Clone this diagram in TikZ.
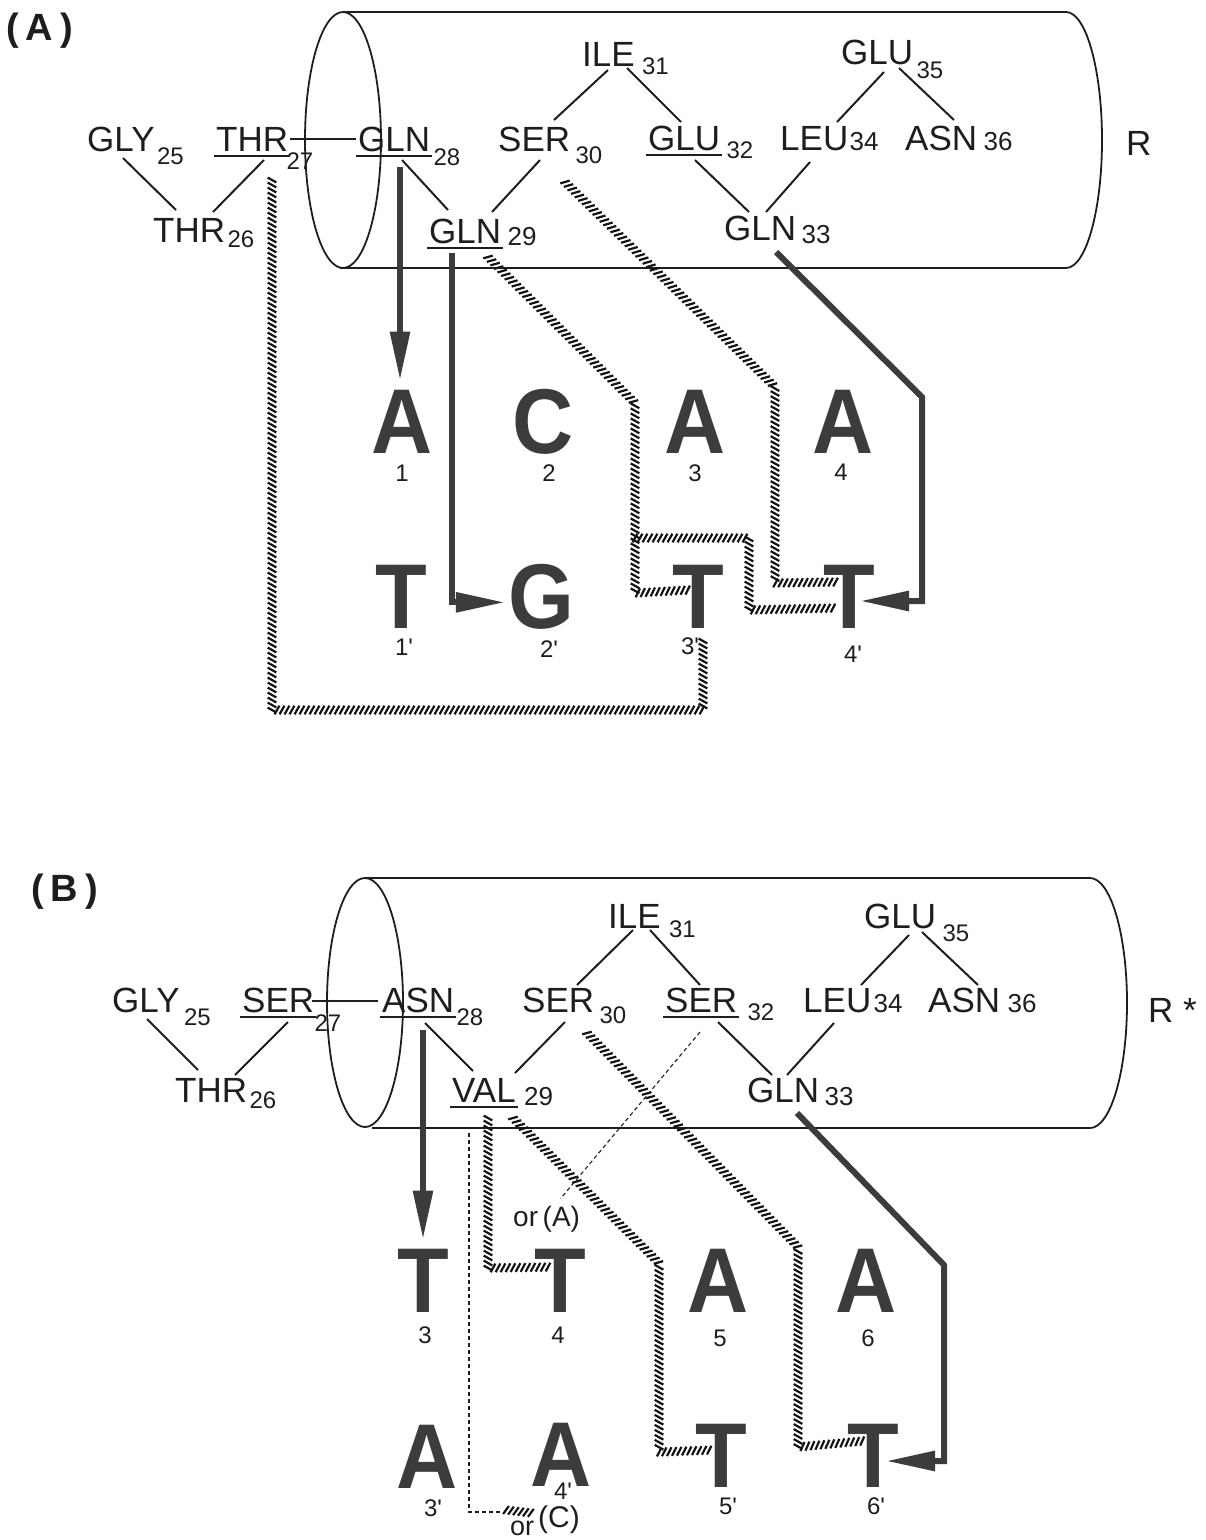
\documentclass[tikz,border=0pt]{standalone}
\usepackage{fontspec}
\setmainfont{Liberation Sans}
\newfontfamily\nucfam[FakeStretch=0.92]{Liberation Sans}
\usetikzlibrary{calc,arrows.meta,decorations.markings}
\definecolor{ink}{HTML}{1E1E1E}
\definecolor{dk}{HTML}{3C3C3C}
\definecolor{hk}{HTML}{141414}
\newcommand\resfnt{\fontsize{35}{38}\selectfont}
\newcommand\subfnt{\fontsize{24}{26}\selectfont}
\newcommand\inlfnt{\fontsize{26}{28}\selectfont}
\newcommand\nucfnt{\nucfam\bfseries\fontsize{92}{92}\selectfont}
\newcommand\numfnt{\fontsize{24}{26}\selectfont}
\newcommand\panfnt{\bfseries\fontsize{38}{40}\selectfont}
\newcommand\pr{\textquotesingle}
\begin{document}
\begin{tikzpicture}[x=1pt,y=-1pt,
  res/.style={font=\resfnt, inner sep=0pt, anchor=base west, text=ink},
  subl/.style={font=\subfnt, inner sep=0pt, anchor=base west, text=ink},
  inl/.style={font=\inlfnt, inner sep=0pt, anchor=base west, text=ink},
  nuc/.style={font=\nucfnt, inner sep=0pt, anchor=base, text=dk},
  num/.style={font=\numfnt, inner sep=0pt, anchor=base, text=ink},
  orl/.style={font=\fontsize{28}{30}\selectfont, inner sep=0pt, anchor=base west, text=ink},
  pan/.style={font=\panfnt, inner sep=0pt, anchor=base west, text=ink},
  tree/.style={draw=ink, line width=2pt},
  cyl/.style={draw=ink, line width=1.8pt},
  ul/.style={draw=ink, line width=1.8pt},
  harrow/.style={draw=dk, line width=6pt, line join=miter, -{Triangle[length=49pt,width=19pt]}},
  hatch/.style={postaction={decorate}, decoration={markings, mark=between positions 0 and 1 step 5pt with {\draw[hk, line width=2.2pt] (-2.4pt,-4.3pt) -- (2.4pt,4.3pt);}}},
  dsh/.style={draw=ink, line width=1.1pt, dash pattern=on 4pt off 3pt}
]
\useasboundingbox (0,0) rectangle (1206,1540);

% ================= PANEL A =================
\node[pan] (panA) at (6,40) {(\kern7pt A\kern7pt)};
\draw[cyl] (343,140) ellipse [x radius=38, y radius=128];
\draw[cyl] (343,12) -- (1066,12) arc[start angle=-90,end angle=90,x radius=36,y radius=128] -- (340,268);
\node[res] (RA) at (1126,155) {R};

\node[res] (glyA) at (87,151) {GLY};   \node[subl] at ($(glyA.base east)+(2,13)$) {25};
\node[res] (thrA) at (216,151) {THR};  \node[subl] at ($(thrA.base east)+(-2,18)$) {27};
\node[res] (glnA) at (358,151) {GLN};  \node[subl] at ($(glnA.base east)+(3,14)$) {28};
\node[res] (sernA) at (498,151) {SER}; \node[subl] at ($(sernA.base east)+(5,12)$) {30};
\node[res] (ileA) at (582,66) {ILE};   \node[subl] at ($(ileA.base east)+(7,8)$) {31};
\node[res] (gluA) at (648,150) {GLU};  \node[subl] at ($(gluA.base east)+(6,8)$) {32};
\node[res] (glueA) at (841,64) {GLU};  \node[subl] at ($(glueA.base east)+(3,14)$) {35};
\node[res] (leuA) at (780,150) {LEU};  \node[inl] at ($(leuA.base east)+(1,0)$) {34};
\node[res] (asnA) at (905,150) {ASN};  \node[inl] at ($(asnA.base east)+(6,0)$) {36};
\node[res] (thrbA) at (153,242) {THR}; \node[subl] at ($(thrbA.base east)+(2,5)$) {26};
\node[res] (glnbA) at (429,243) {GLN}; \node[inl] at ($(glnbA.base east)+(6,2)$) {29};
\node[res] (glncA) at (724,240) {GLN}; \node[inl] at ($(glncA.base east)+(5,3)$) {33};

\foreach \n in {thrA,glnA,gluA,glnbA}
  \draw[ul] ($(\n.base west)+(-2,5)$) -- ($(\n.base east)+(2,5)$);

\draw[tree] ($(glyA.base west)+(36,7)$) -- ($(thrbA.base west)+(23,-32)$);
\draw[tree] ($(thrA.base west)+(48,9)$) -- ($(thrbA.base west)+(60,-30)$);
\draw[tree] ($(thrA.base west)+(74,-12)$) -- ($(glnA.base west)+(-2,-12)$);
\draw[tree] ($(glnA.base west)+(44,9)$) -- ($(glnbA.base west)+(19,-33)$);
\draw[tree] ($(sernA.base west)+(42,9)$) -- ($(glnbA.base west)+(63,-31)$);
\draw[tree] ($(ileA.base west)+(26,4)$) -- ($(sernA.base west)+(56,-31)$);
\draw[tree] ($(ileA.base west)+(45,2)$) -- ($(gluA.base west)+(33,-28)$);
\draw[tree] ($(gluA.base west)+(47,10)$) -- ($(glncA.base west)+(25,-28)$);
\draw[tree] ($(leuA.base west)+(30,12)$) -- ($(glncA.base west)+(42,-28)$);
\draw[tree] ($(glueA.base west)+(43,8)$) -- ($(leuA.base west)+(57,-28)$);
\draw[tree] ($(glueA.base west)+(58,4)$) -- ($(asnA.base west)+(49,-30)$);

\node[nuc] (A1) at (402,453) {A};
\node[nuc] (C2) at (543,453) {C};
\node[nuc] (A3) at (695,453) {A};
\node[nuc] (A4) at (843,453) {A};
\node[nuc] (T1p) at (401,628) {T};
\node[nuc] (G2p) at (541,628) {G};
\node[nuc] (T3p) at (698,628) {T};
\node[nuc] (T4p) at (849,628) {T};
\node[num] (n1) at (402,481) {1};
\node[num] (n2) at (549,481) {2};
\node[num] (n3) at (695,481) {3};
\node[num] (n4) at (841,480) {4};
\node[num] (n1p) at (404,655) {1\pr};
\node[num] (n2p) at (549,657) {2\pr};
\node[num] (n3p) at (690,654) {3\pr};
\node[num] (n4p) at (853,662) {4\pr};

\draw[harrow, shorten >=9pt] ($(glnA.base west)+(42,16)$) coordinate (a1s) -- (a1s |- A1.north);
\draw[harrow] ($(glnbA.base west)+(23,10)$) |- ($(G2p.west)+(-3,6)$);
\draw[harrow] ($(glncA.base west)+(52,12)$) -- (922,397) |- ($(T4p.base)+(11,-27)$);

\path[hatch] ($(thrA.base west)+(56,29)$) -- ++(0,530) -| ($(n3p.base)+(13,-17)$);
\path[hatch] ($(glnbA.base west)+(59,14)$) -- (635,403) -- (635,593) -- ($(T3p.base)+(-10,-38)$);
\coordinate (hbx) at (635,538);
\path[hatch] (hbx) -- (749,538) -- (749,610) -- ($(T4p.base)+(-15,-20)$);
\path[hatch] ($(sernA.base west)+(67,31)$) -- (775,387) -- (775,583) -- ($(T4p.base)+(-11,-46)$);

% ================= PANEL B =================
\node[pan] (panB) at (31,901) {(\kern7pt B\kern7pt)};
\draw[cyl] (365,1002.5) ellipse [x radius=38, y radius=124.5];
\draw[cyl] (366,878) -- (1090,878) arc[start angle=-90,end angle=90,x radius=37,y radius=125] -- (372,1128);
\node[res] (RB) at (1148,1022) {R *};

\node[res] (glyB) at (112,1012) {GLY};  \node[subl] at ($(glyB.base east)+(4,13)$) {25};
\node[res] (serB) at (242,1012) {SER};  \node[subl] at ($(serB.base east)+(0,19)$) {27};
\node[res] (asnB) at (382,1012) {ASN};  \node[subl] at ($(asnB.base east)+(2,13)$) {28};
\node[res] (sernB) at (522,1012) {SER}; \node[subl] at ($(sernB.base east)+(5,11)$) {30};
\node[res] (ileB) at (608,928) {ILE};   \node[subl] at ($(ileB.base east)+(8,9)$) {31};
\node[res] (sertB) at (665,1012) {SER}; \node[subl] at ($(sertB.base east)+(10,8)$) {32};
\node[res] (leuB) at (803,1012) {LEU};  \node[inl] at ($(leuB.base east)+(2,0)$) {34};
\node[res] (asncB) at (928,1012) {ASN}; \node[inl] at ($(asncB.base east)+(7,0)$) {36};
\node[res] (glueB) at (864,928) {GLU};  \node[subl] at ($(glueB.base east)+(6,13)$) {35};
\node[res] (thrbB) at (175,1102) {THR}; \node[subl] at ($(thrbB.base east)+(2,6)$) {26};
\node[res] (valB) at (452,1102) {VAL};  \node[inl] at ($(valB.base east)+(8,3)$) {29};
\node[res] (glncB) at (747,1102) {GLN}; \node[inl] at ($(glncB.base east)+(5,3)$) {33};

\foreach \n in {serB,asnB,sertB,valB}
  \draw[ul] ($(\n.base west)+(-2,5)$) -- ($(\n.base east)+(2,5)$);

\draw[tree] ($(glyB.base west)+(35,7)$) -- ($(thrbB.base west)+(23,-32)$);
\draw[tree] ($(serB.base west)+(46,10)$) -- ($(thrbB.base west)+(60,-27)$);
\draw[tree] ($(serB.base west)+(70,-11)$) -- ($(asnB.base west)+(-4,-11)$);
\draw[tree] ($(asnB.base west)+(43,11)$) -- ($(valB.base west)+(21,-31)$);
\draw[tree] ($(sernB.base west)+(43,10)$) -- ($(valB.base west)+(63,-29)$);
\draw[tree] ($(ileB.base west)+(25,2)$) -- ($(sernB.base west)+(55,-27)$);
\draw[tree] ($(ileB.base west)+(42,2)$) -- ($(sertB.base west)+(35,-27)$);
\draw[tree] ($(sertB.base west)+(53,10)$) -- ($(glncB.base west)+(25,-27)$);
\draw[tree] ($(leuB.base west)+(31,11)$) -- ($(glncB.base west)+(40,-27)$);
\draw[tree] ($(glueB.base west)+(45,7)$) -- ($(leuB.base west)+(58,-27)$);
\draw[tree] ($(glueB.base west)+(58,4)$) -- ($(asncB.base west)+(50,-27)$);

\node[nuc] (T3B) at (423,1312) {T};
\node[nuc] (T4B) at (560,1312) {T};
\node[nuc] (A5B) at (718,1312) {A};
\node[nuc] (A6B) at (866,1312) {A};
\node[nuc] (A3pB) at (427,1488) {A};
\node[nuc] (A4pB) at (561,1486) {A};
\node[nuc] (T5pB) at (721,1487) {T};
\node[nuc] (T6pB) at (873,1487) {T};
\node[num] (m3) at (425,1343) {3};
\node[num] (m4) at (558,1343) {4};
\node[num] (m5) at (720,1346) {5};
\node[num] (m6) at (868,1346) {6};
\node[num] (m3p) at (433,1516) {3\pr};
\node[num] (m4p) at (563,1499) {4\pr};
\node[num] (m5p) at (728,1514) {5\pr};
\node[num] (m6p) at (876,1514) {6\pr};

\node[orl] (orA) at (513,1226) {or\,(A)};
\node[orl, font=\fontsize{27}{29}\selectfont] (orC) at (510,1535) {or};
\node[orl, font=\fontsize{30}{32}\selectfont] (cC) at (538,1527) {(C)};

\draw[harrow, shorten >=9pt] ($(asnB.base west)+(41,18)$) coordinate (b1s) -- (b1s |- T3B.north);
\draw[harrow] ($(glncB.base west)+(50,11)$) -- (944,1265) |- ($(T6pB.base)+(13,-26)$);

\path[hatch] ($(valB.base west)+(36,16)$) -- (488,1268) -- ($(T4B.base)+(-8,-45)$);
\path[hatch] ($(valB.base west)+(61,16)$) -- (659,1263) -- (659,1452) -- ($(T5pB.base)+(-8,-37)$);
\path[hatch] ($(sernB.base west)+(65,21)$) -- (798,1247) -- (798,1447) -- ($(T6pB.base)+(-10,-46)$);

\draw[dsh] ($(sertB.base west)+(35,20)$) -- ($(orA.north)+(14,-7)$);
\coordinate (ce) at (500,1512);
\draw[dsh] ($(valB.base west)+(17,31)$) |- (ce);
\path[hatch] ($(ce)+(6,-2)$) -- (532,1513);
\end{tikzpicture}
\end{document}
